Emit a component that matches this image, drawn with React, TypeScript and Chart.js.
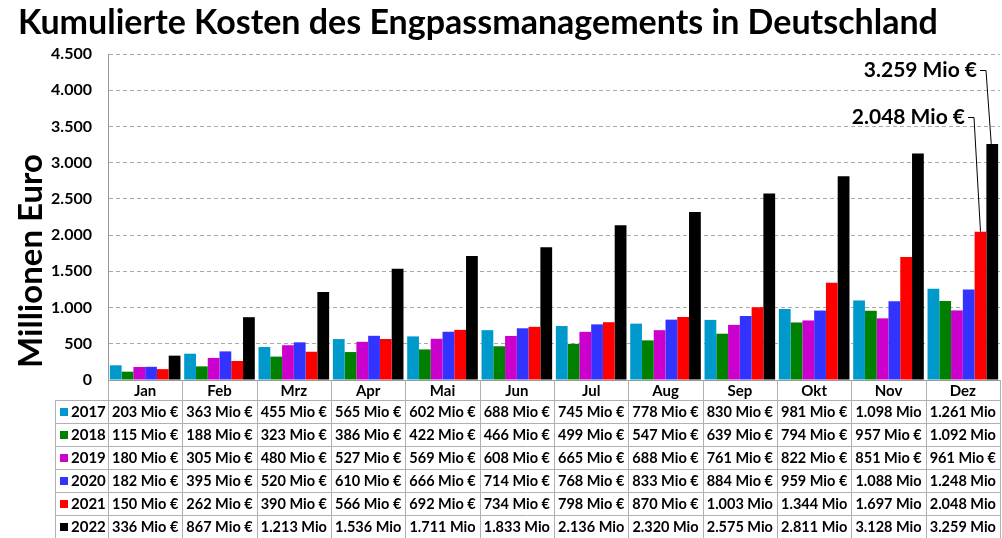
import React, { useEffect, useRef } from "react";
import { Chart, registerables } from "chart.js";
Chart.register(...registerables);

const months = ["Jan", "Feb", "Mrz", "Apr", "Mai", "Jun", "Jul", "Aug", "Sep", "Okt", "Nov", "Dez"];
const years = ["2017", "2018", "2019", "2020", "2021", "2022"];
const v2017 = [203, 363, 455, 565, 602, 688, 745, 778, 830, 981, 1098, 1261];
const v2018 = [115, 188, 323, 386, 422, 466, 499, 547, 639, 794, 957, 1092];
const v2019 = [180, 305, 480, 527, 569, 608, 665, 688, 761, 822, 851, 961];
const v2020 = [182, 395, 520, 610, 666, 714, 768, 833, 884, 959, 1088, 1248];
const v2021 = [150, 262, 390, 566, 692, 734, 798, 870, 1003, 1344, 1697, 2048];
const v2022 = [336, 867, 1213, 1536, 1711, 1833, 2136, 2320, 2575, 2811, 3128, 3259];
const seriesValues = [v2017, v2018, v2019, v2020, v2021, v2022];
const colors = ["#0099CC", "#008000", "#CC00CC", "#3333FF", "#FF0000", "#000000"];
const titleText = "Kumulierte Kosten des Engpassmanagements in Deutschland";
const yTitleText = "Millionen Euro";
const annot2021 = "2.048 Mio €";
const annot2022 = "3.259 Mio €";

const FONT = "Lato, 'Open Sans', sans-serif";

function fmt(n: number): string {
  const s = String(Math.round(n));
  return s.replace(/\B(?=(\d{3})+(?!\d))/g, ".");
}
function cellText(n: number): string {
  return n >= 1000 ? `${fmt(n)} Mio` : `${fmt(n)} Mio €`;
}

const overlay = {
  id: "overlay",
  afterDraw(chart: any) {
    const ctx = chart.ctx as CanvasRenderingContext2D;
    const area = chart.chartArea;
    const xs = chart.scales.x;
    const H = chart.height;
    ctx.save();
    // Title
    ctx.fillStyle = "#000";
    ctx.font = `bold 34px ${FONT}`;
    ctx.textAlign = "left";
    ctx.textBaseline = "middle";
    ctx.fillText(titleText, 18, 23);
    // Y title
    ctx.save();
    ctx.translate(31, 261);
    ctx.rotate(-Math.PI / 2);
    ctx.textAlign = "center";
    ctx.font = `bold 33px ${FONT}`;
    ctx.fillText(yTitleText, 0, 0);
    ctx.restore();

    // Table
    const catW = (area.right - area.left) / months.length;
    const headerBottom = area.bottom + 20;
    const rowH = 23;
    const legendLeft = 55;
    ctx.strokeStyle = "#b0b0b0";
    ctx.lineWidth = 1;
    for (let i = 0; i <= months.length; i++) {
      const x = Math.round(area.left + i * catW) + 0.5;
      ctx.beginPath();
      ctx.moveTo(x, area.bottom);
      ctx.lineTo(x, H);
      ctx.stroke();
    }
    ctx.beginPath();
    ctx.moveTo(legendLeft + 0.5, headerBottom);
    ctx.lineTo(legendLeft + 0.5, H);
    ctx.stroke();
    for (let r = 0; r <= years.length; r++) {
      const y = Math.round(headerBottom + r * rowH) + 0.5;
      ctx.beginPath();
      ctx.moveTo(legendLeft, y);
      ctx.lineTo(area.right, y);
      ctx.stroke();
    }
    ctx.fillStyle = "#000";
    ctx.textAlign = "center";
    ctx.textBaseline = "middle";
    ctx.font = `bold 15px ${FONT}`;
    months.forEach((m, i) => {
      const cx = xs.getPixelForValue(i);
      ctx.fillText(m, cx, area.bottom + 11);
    });
    years.forEach((yr, r) => {
      const cy = headerBottom + r * rowH + rowH / 2 + 0.5;
      ctx.fillStyle = colors[r];
      ctx.fillRect(legendLeft + 5, cy - 4, 8, 8);
      ctx.fillStyle = "#000";
      ctx.textAlign = "left";
      ctx.font = `bold 15px ${FONT}`;
      ctx.fillText(yr, legendLeft + 16, cy);
      ctx.textAlign = "center";
      ctx.font = `bold 14.5px ${FONT}`;
      seriesValues[r].forEach((v, i) => {
        const cx = xs.getPixelForValue(i);
        ctx.fillText(cellText(v), cx, cy);
      });
    });

    // Annotations
    const b22 = chart.getDatasetMeta(5).data[11];
    const b21 = chart.getDatasetMeta(4).data[11];
    ctx.font = `bold 21px ${FONT}`;
    ctx.textAlign = "right";
    ctx.fillStyle = "#000";
    ctx.fillText(annot2022, 977, 70);
    ctx.fillText(annot2021, 965, 117);
    ctx.strokeStyle = "#000";
    ctx.lineWidth = 1;
    ctx.beginPath();
    ctx.moveTo(980, 70.5);
    ctx.lineTo(986, 70.5);
    ctx.lineTo(b22.x - 1, b22.y);
    ctx.stroke();
    ctx.beginPath();
    ctx.moveTo(968, 117.5);
    ctx.lineTo(974, 117.5);
    ctx.lineTo(b21.x, b21.y);
    ctx.stroke();
    ctx.restore();
  },
};

export default function App() {
  const ref = useRef<HTMLCanvasElement | null>(null);
  useEffect(() => {
    if (!ref.current) return;
    const chart = new Chart(ref.current, {
      type: "bar",
      data: {
        labels: months,
        datasets: years.map((y, i) => ({
          label: y,
          data: seriesValues[i],
          backgroundColor: colors[i],
          borderWidth: 0,
          categoryPercentage: 0.95,
          barPercentage: 1.0,
        })),
      },
      options: {
        animation: false,
        responsive: true,
        maintainAspectRatio: false,
        layout: { padding: { top: 54, right: 2, left: 0, bottom: 0 } },
        plugins: {
          legend: { display: false },
          title: { display: false },
          tooltip: { enabled: false },
        },
        scales: {
          x: {
            ticks: { display: false },
            grid: { display: false },
            border: { display: true, color: "#999", width: 1 },
            afterFit: (s: any) => {
              s.height = 158;
            },
          },
          y: {
            min: 0,
            max: 4500,
            ticks: {
              stepSize: 500,
              padding: 16,
              color: "#000",
              font: { family: FONT, weight: "bold", size: 16 },
              callback: (v: any) => fmt(Number(v)),
            },
            grid: { color: "#aaa", drawTicks: false, lineWidth: 1 },
            border: { display: true, color: "#999", width: 1, dash: [4, 3] },
            afterFit: (s: any) => {
              s.width = 108;
            },
          },
        },
      },
      plugins: [overlay],
    });
    return () => chart.destroy();
  }, []);
  return (
    <div style={{ position: "fixed", left: 0, top: 0, width: 1002, height: 538, background: "#fff" }}>
      <canvas ref={ref} />
    </div>
  );
}
